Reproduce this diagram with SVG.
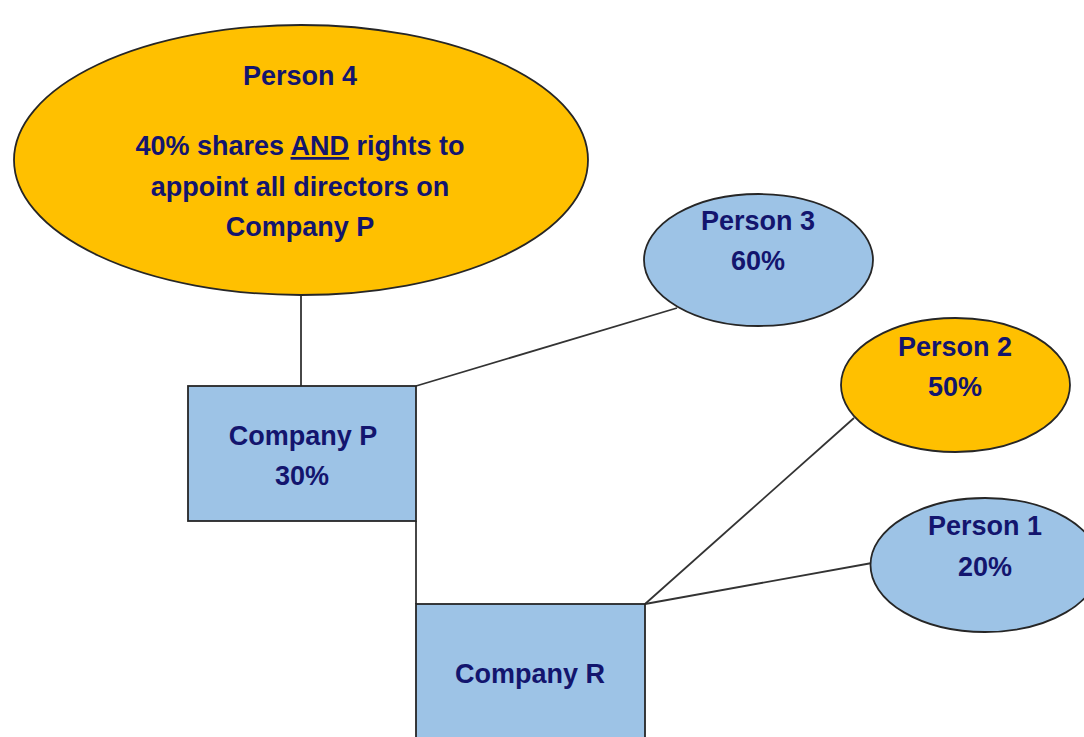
<svg xmlns="http://www.w3.org/2000/svg" width="1084" height="737" viewBox="0 0 1084 737">
  <style>
    .gold { fill: #FFC000; stroke: #262626; stroke-width: 1.8; }
    .blue { fill: #9DC3E6; stroke: #262626; stroke-width: 1.8; }
    .link { stroke: #333333; stroke-width: 1.8; fill: none; }
    text { font-family: "Liberation Sans", Arial, sans-serif; font-weight: bold; font-size: 27px; fill: #13156E; text-anchor: middle; }
  </style>
  <rect width="1084" height="737" fill="#FFFFFF"/>

  <!-- connectors -->
  <g id="connectors">
    <line class="link" x1="301" y1="295" x2="301" y2="387"/>
    <line class="link" x1="416" y1="386" x2="677" y2="308"/>
    <line class="link" x1="416" y1="521" x2="416" y2="604"/>
    <line class="link" x1="645" y1="604" x2="854" y2="418"/>
    <line class="link" x1="645" y1="604" x2="872" y2="563"/>
  </g>

  <g id="person4">
    <ellipse class="gold" cx="301" cy="160" rx="287" ry="135"/>
    <text x="300" y="85">Person 4</text>
    <text x="300" y="155">40% shares <tspan text-decoration="underline">AND</tspan> rights to</text>
    <text x="300" y="196">appoint all directors on</text>
    <text x="300" y="236">Company P</text>
  </g>

  <g id="companyP">
    <rect class="blue" x="188" y="386" width="228" height="135"/>
    <text x="303" y="445">Company P</text>
    <text x="302" y="485">30%</text>
  </g>

  <g id="companyR">
    <rect class="blue" x="416" y="604" width="229" height="150"/>
    <text x="530" y="683">Company R</text>
  </g>

  <g id="person3">
    <ellipse class="blue" cx="758.5" cy="260" rx="114.5" ry="66"/>
    <text x="758" y="230">Person 3</text>
    <text x="758" y="270">60%</text>
  </g>

  <g id="person2">
    <ellipse class="gold" cx="955.5" cy="385" rx="114.5" ry="67"/>
    <text x="955" y="356">Person 2</text>
    <text x="955" y="396">50%</text>
  </g>

  <g id="person1">
    <ellipse class="blue" cx="985" cy="565" rx="114.5" ry="67"/>
    <text x="985" y="535">Person 1</text>
    <text x="985" y="576">20%</text>
  </g>
</svg>
